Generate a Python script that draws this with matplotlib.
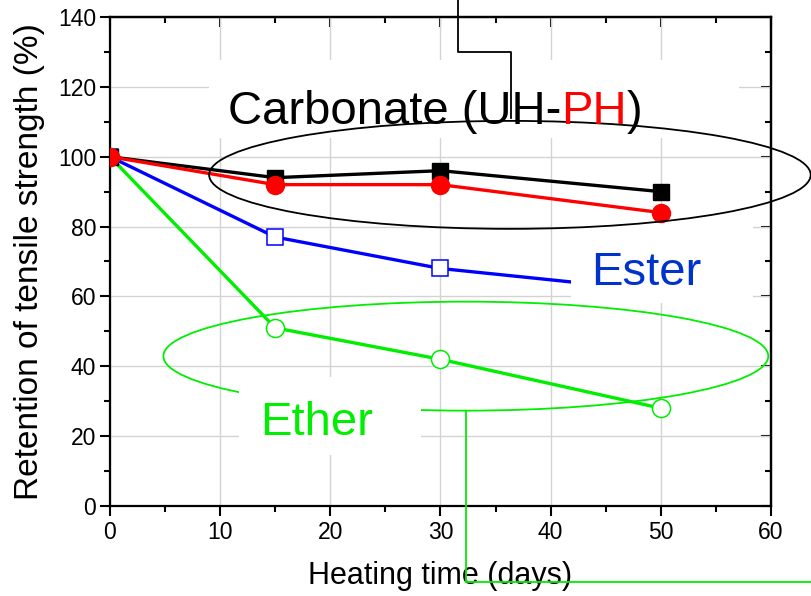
import matplotlib
matplotlib.use("Agg")
import matplotlib.pyplot as plt
from matplotlib.patches import Ellipse, Rectangle
from matplotlib.ticker import MultipleLocator

plt.rcParams['font.family'] = ['Liberation Sans', 'DejaVu Sans']

# heating time (days) and tensile strength retention (%)
days = [0, 15, 30, 50]
carbonate_uh = [100, 94, 96, 90]
carbonate_ph = [100, 92, 92, 84]
ester = [100, 77, 68, 61.5]
ether = [100, 51, 42, 28]

fig = plt.figure(figsize=(8.11, 5.96), dpi=100)
ax = fig.add_axes([0.1356, 0.151, 0.8151, 0.8205])

ax.set_xlim(0, 60)
ax.set_ylim(0, 140)
ax.xaxis.set_major_locator(MultipleLocator(10))
ax.xaxis.set_minor_locator(MultipleLocator(5))
ax.yaxis.set_major_locator(MultipleLocator(20))
ax.yaxis.set_minor_locator(MultipleLocator(10))
ax.grid(True, which='major', color='#d3d3d3', linewidth=1.0, zorder=0)
ax.set_axisbelow(True)

for s in ax.spines.values():
    s.set_linewidth(1.6)
ax.tick_params(which='both', width=1.5, labelsize=16.5)
ax.tick_params(which='major', length=7)
ax.tick_params(which='minor', length=4)
ax.tick_params(axis='x', which='both', bottom=True, direction='out', pad=4)
ax.tick_params(axis='y', which='both', left=True, direction='out', pad=3)

# inward ticks on top/right
top = ax.secondary_xaxis('top')
top.xaxis.set_major_locator(MultipleLocator(10))
top.xaxis.set_minor_locator(MultipleLocator(5))
top.tick_params(which='both', direction='in', width=1.5, labeltop=False)
top.tick_params(which='major', length=7)
top.tick_params(which='minor', length=4)
top.spines['top'].set_linewidth(1.6)
right = ax.secondary_yaxis('right')
right.yaxis.set_major_locator(MultipleLocator(20))
right.yaxis.set_minor_locator(MultipleLocator(10))
right.tick_params(which='both', direction='in', width=1.5, labelright=False)
right.tick_params(which='major', length=7)
right.tick_params(which='minor', length=4)
right.spines['right'].set_linewidth(1.6)

ax.set_xlabel('Heating time (days)', fontsize=22, labelpad=12)
ax.set_ylabel('Retention of tensile strength (%)', fontsize=24, labelpad=9)

# series
ax.plot(days, ester, color='#0000ff', lw=2.4, marker='s', ms=11,
        mfc='white', mec='#0000ff', mew=1.1, zorder=2)
ax.plot(days, ether, color='#00ee00', lw=2.4, marker='o', ms=13,
        mfc='white', mec='#00ee00', mew=1.1, zorder=2)
ax.plot(days, carbonate_uh, color='black', lw=2.4, marker='s', ms=11,
        zorder=4)
ax.plot(days, carbonate_ph, color='#ff0000', lw=2.4, marker='o', ms=13,
        zorder=4)

# white label backgrounds
ax.add_patch(Rectangle((9.0, 105.4), 48.1, 22.3, facecolor='white',
                       edgecolor='none', zorder=3, clip_on=False))
ax.add_patch(Rectangle((41.8, 58.1), 16.6, 24.0, facecolor='white',
                       edgecolor='none', zorder=3, clip_on=False))
ax.add_patch(Rectangle((11.7, 14.6), 16.5, 22.3, facecolor='white',
                       edgecolor='none', zorder=3.5, clip_on=False))

# ellipses
ax.add_patch(Ellipse((36.3, 94.8), 54.6, 30.9, fill=False, edgecolor='black',
                     lw=1.3, zorder=5, clip_on=False))
ax.add_patch(Ellipse((32.3, 42.9), 54.9, 31.2, fill=False, edgecolor='#00ee00',
                     lw=1.3, zorder=3.2, clip_on=False))

# connector lines
ax.plot([31.6, 31.6, 36.4, 36.4], [145, 130.0, 130.0, 111.1], color='black',
        lw=1.3, zorder=5, clip_on=False)
ax.plot([32.3, 32.3, 64], [27.3, -21.8, -21.8], color='#00ee00',
        lw=1.3, zorder=5, clip_on=False)

# labels
fs = 34
t1 = ax.text(10.7, 109.5, 'Carbonate (UH-', fontsize=fs, color='black',
             va='baseline', zorder=6)
t2 = ax.annotate('PH', xy=(1, 0), xycoords=t1, va='bottom', fontsize=fs,
                 color='#ff0000', zorder=6)
ax.annotate(')', xy=(1, 0), xycoords=t2, va='bottom', fontsize=fs,
            color='black', zorder=6)
ax.text(43.7, 63.2, 'Ester', fontsize=fs, color='#0033cc', va='baseline',
        zorder=6)
ax.text(13.6, 20.2, 'Ether', fontsize=fs, color='#00ee00', va='baseline',
        zorder=6)

fig.savefig('out.png', dpi=100)
